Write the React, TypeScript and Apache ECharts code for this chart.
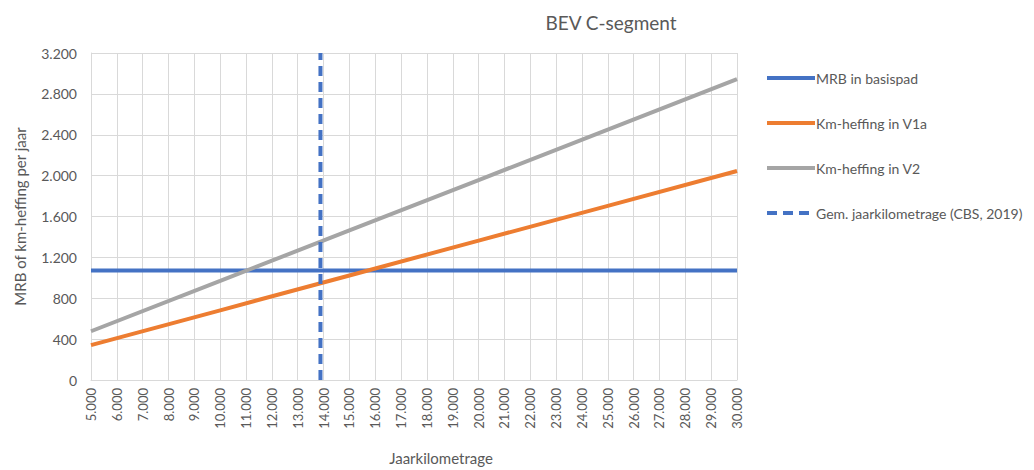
import React, { useEffect, useRef } from "react";
import * as echarts from "echarts";

const kmPoints = [5000, 10000, 15000, 20000, 25000, 30000];
const mrbBasispad = [1072, 1072, 1072, 1072, 1072, 1072];
const kmV1a = [341, 682, 1023, 1364, 1704, 2045];
const kmV2 = [477, 970, 1464, 1957, 2451, 2944];
const gemJaarkm = 13880;
const seriesNames = [
  "MRB in basispad",
  "Km-heffing in V1a",
  "Km-heffing in V2",
  "Gem. jaarkilometrage (CBS, 2019)",
];
const colors = ["#4472C4", "#ED7D31", "#A5A5A5", "#4472C4"];

const fmt = (v: number) => {
  const s = Math.round(v).toString();
  return s.replace(/\B(?=(\d{3})+(?!\d))/g, ".");
};

const FONT = "Lato";
const TXT = "#595959";

export default function App() {
  const ref = useRef<HTMLDivElement>(null);
  useEffect(() => {
    if (!ref.current) return;
    const chart = echarts.init(ref.current, null, { renderer: "svg" });
    const pair = (ys: number[]) => kmPoints.map((x, i) => [x, ys[i]]);
    chart.setOption({
      animation: false,
      backgroundColor: "#ffffff",
      textStyle: { fontFamily: FONT },
      title: {
        text: "BEV C-segment",
        left: 606,
        top: 8,
        textAlign: "center",
        textStyle: { fontFamily: FONT, fontSize: 19, fontWeight: "normal", color: TXT },
      },
      legend: {
        orient: "vertical",
        left: 760,
        top: 66,
        itemWidth: 48,
        itemHeight: 14,
        itemGap: 31,
        itemStyle: { opacity: 0, borderWidth: 0 },
        lineStyle: { width: 4 },
        textStyle: { fontFamily: FONT, fontSize: 14, color: TXT, padding: [0, 0, 0, -4] },
        data: seriesNames,
      },
      grid: { left: 91, right: 297, top: 53, bottom: 88, containLabel: false },
      xAxis: {
        type: "value",
        min: 5000,
        max: 30000,
        interval: 1000,
        name: "Jaarkilometrage",
        nameLocation: "middle",
        nameGap: 70,
        nameTextStyle: { fontFamily: FONT, fontSize: 15, color: TXT, padding: [0, 0, 0, 54] },
        axisLine: { lineStyle: { color: "#D9D9D9" } },
        axisTick: { show: false },
        splitLine: { show: true, lineStyle: { color: "#D9D9D9", width: 1 } },
        axisLabel: {
          rotate: 90,
          margin: 8,
          fontFamily: FONT,
          fontSize: 13,
          color: TXT,
          formatter: (v: number) => fmt(v),
        },
      },
      yAxis: {
        type: "value",
        min: 0,
        max: 3200,
        interval: 400,
        name: "MRB of km-heffing per jaar",
        nameLocation: "middle",
        nameGap: 64,
        nameTextStyle: { fontFamily: FONT, fontSize: 15, color: TXT },
        axisLine: { show: true, lineStyle: { color: "#D9D9D9" } },
        axisTick: { show: false },
        splitLine: { show: true, lineStyle: { color: "#D9D9D9", width: 1 } },
        axisLabel: {
          margin: 14,
          fontFamily: FONT,
          fontSize: 14,
          color: TXT,
          formatter: (v: number) => fmt(v),
        },
      },
      series: [
        {
          name: seriesNames[0],
          type: "line",
          data: pair(mrbBasispad),
          showSymbol: false,
          symbol: "none",
          color: colors[0],
          lineStyle: { width: 4, color: colors[0] },
        },
        {
          name: seriesNames[1],
          type: "line",
          data: pair(kmV1a),
          showSymbol: false,
          symbol: "none",
          color: colors[1],
          lineStyle: { width: 4, color: colors[1] },
        },
        {
          name: seriesNames[2],
          type: "line",
          data: pair(kmV2),
          showSymbol: false,
          symbol: "none",
          color: colors[2],
          lineStyle: { width: 4, color: colors[2] },
        },
        {
          name: seriesNames[3],
          type: "line",
          data: [
            [gemJaarkm, 0],
            [gemJaarkm, 3200],
          ],
          showSymbol: false,
          symbol: "none",
          color: colors[3],
          lineStyle: { width: 4, color: colors[3], type: [10, 6] },
        },
      ],
    });
    return () => chart.dispose();
  }, []);
  return (
    <div
      ref={ref}
      style={{ position: "fixed", left: 0, top: 0, width: 1034, height: 470 }}
    />
  );
}
